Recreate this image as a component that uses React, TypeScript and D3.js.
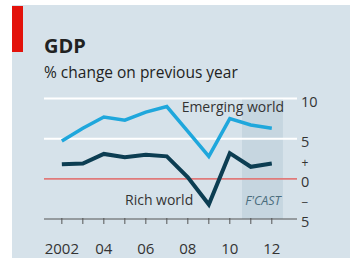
import React from "react";
import * as d3 from "d3";

const years = [2002, 2003, 2004, 2005, 2006, 2007, 2008, 2009, 2010, 2011, 2012];
const emerging = [4.7, 6.3, 7.7, 7.3, 8.3, 9.0, 5.9, 2.8, 7.5, 6.7, 6.3];
const rich = [1.8, 1.9, 3.1, 2.7, 3.0, 2.8, 0.2, -3.2, 3.2, 1.5, 1.9];
const xTickLabels = ["2002", "04", "06", "08", "10", "12"];
const yTicks = [
  { v: 10, label: "10" },
  { v: 5, label: "5" },
  { v: 2.5, label: "+" },
  { v: 0, label: "0" },
  { v: -2.5, label: "\u2212" },
  { v: -5, label: "5" },
];
const forecastFrom = 2010.58;
const forecastTo = 2012.53;

const W = 350;
const H = 259;
const font = "'Open Sans', sans-serif";

const App: React.FC = () => {
  const x = d3.scaleLinear().domain([2001.15, 2013.2]).range([44, 297]);
  const y = d3.scaleLinear().domain([-5, 10]).range([219, 98.5]);

  const line = d3
    .line<number>()
    .x((_, i) => x(years[i]))
    .y((d) => y(d));

  const textCol = "#333";
  const isSign = (s: string) => s === "+" || s === "\u2212";

  return (
    <div style={{ position: "absolute", left: 0, top: 0 }}>
      <svg width={W} height={H} style={{ display: "block" }}>
        <rect x={0} y={0} width={W} height={H} fill="#fff" />
        <rect x={12} y={5} width={W - 12} height={253} fill="#d6e2ea" />
        <rect x={12} y={6} width={11} height={46} fill="#e3120b" />

        <text x={44} y={53} fontFamily={font} fontWeight={700} fontSize={20} fill="#222">
          GDP
        </text>
        <text x={44} y={78} fontFamily={font} fontSize={15.5} fill="#222">
          % change on previous year
        </text>

        {/* forecast shade */}
        <rect
          x={x(forecastFrom)}
          y={y(10)}
          width={x(forecastTo) - x(forecastFrom)}
          height={y(-5) - y(10)}
          fill="#c6d6e0"
        />

        {/* gridlines */}
        {[10, 5].map((v) => (
          <line key={v} x1={44} x2={297} y1={y(v)} y2={y(v)} stroke="#fff" strokeWidth={2} />
        ))}
        <line x1={44} x2={297} y1={y(0)} y2={y(0)} stroke="#e07a7a" strokeWidth={1.8} />
        <line x1={44} x2={297} y1={y(-5)} y2={y(-5)} stroke="#555" strokeWidth={1} />

        {/* x ticks */}
        {years.map((yr) => (
          <line key={yr} x1={x(yr)} x2={x(yr)} y1={y(-5) - 1} y2={y(-5) + 5} stroke="#555" strokeWidth={1} />
        ))}
        {xTickLabels.map((lab, i) => (
          <text
            key={lab}
            x={x(2002 + i * 2)}
            y={254}
            textAnchor="middle"
            fontFamily={font}
            fontSize={15}
            fill={textCol}
          >
            {lab}
          </text>
        ))}

        {/* y labels */}
        {yTicks.map((t) => (
          <text
            key={t.v}
            x={isSign(t.label) ? 305 : 301}
            y={y(t.v) + 8}
            textAnchor={isSign(t.label) ? "middle" : "start"}
            fontFamily={font}
            fontSize={isSign(t.label) ? 12 : 14.5}
            fill={textCol}
          >
            {t.label}
          </text>
        ))}

        {/* lines */}
        <path d={line(emerging) ?? ""} fill="none" stroke="#1fa7dc" strokeWidth={3.5} strokeLinejoin="miter" />
        <path d={line(rich) ?? ""} fill="none" stroke="#0c3d52" strokeWidth={4} strokeLinejoin="miter" />

        {/* labels */}
        <text x={284} y={112} textAnchor="end" fontFamily={font} fontSize={14} fill={textCol}>
          Emerging world
        </text>
        <text x={125} y={205} fontFamily={font} fontSize={14} fill={textCol}>
          Rich world
        </text>
        <text
          x={263}
          y={205}
          textAnchor="middle"
          fontFamily={font}
          fontStyle="italic"
          fontSize={12.5}
          fill="#4b6d7d"
        >
          F'CAST
        </text>
      </svg>
    </div>
  );
};

export default App;
